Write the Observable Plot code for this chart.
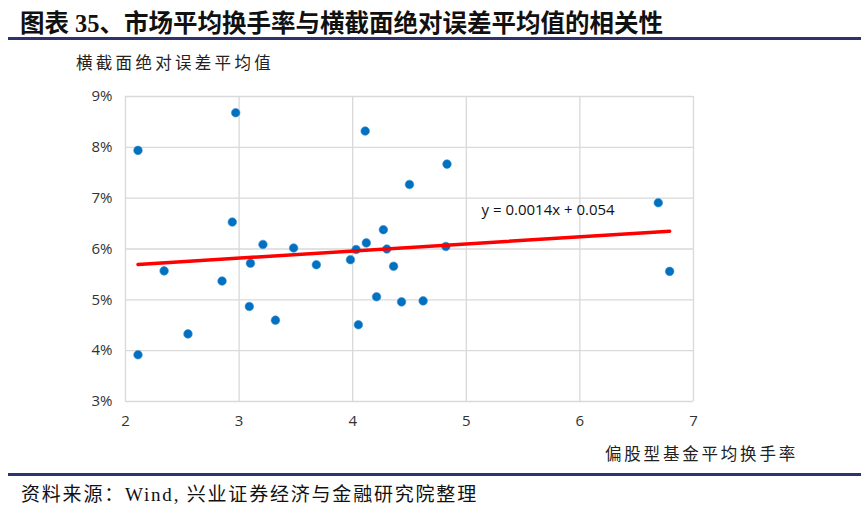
<!DOCTYPE html>
<html><head><meta charset="utf-8">
<script src="https://cdn.jsdelivr.net/npm/d3@7"></script>
<script src="https://cdn.jsdelivr.net/npm/@observablehq/plot@0.6"></script>
<style>
body{margin:0;background:#fff;}
#wrap{position:relative;width:865px;height:513px;overflow:hidden;background:#fff;font-family:"Noto Sans CJK SC",sans-serif;color:#222;}
#title{position:absolute;left:20px;top:4px;font-size:24.5px;font-weight:bold;font-family:"Liberation Serif","Noto Sans CJK SC",serif;color:#111;white-space:nowrap;}
.rule{position:absolute;left:8px;width:853px;height:3px;background:#2e3370;}
#ylabel{position:absolute;left:76px;top:50px;font-size:16.5px;letter-spacing:3.3px;color:#222;white-space:nowrap;}
#chart{position:absolute;left:0;top:80px;}
#xlabel{position:absolute;left:605px;top:441px;font-size:16.5px;letter-spacing:2.8px;color:#222;white-space:nowrap;}
#caption{position:absolute;left:21px;top:479px;font-size:19px;letter-spacing:1.8px;font-family:"Liberation Serif","Noto Sans CJK SC",serif;color:#111;white-space:nowrap;}
</style></head><body>
<div id="wrap">
  <div id="title">图表 35、市场平均换手率与横截面绝对误差平均值的相关性</div>
  <div class="rule" style="top:37px"></div>
  <div id="ylabel">横截面绝对误差平均值</div>
  <div id="chart"></div>
  <div id="xlabel">偏股型基金平均换手率</div>
  <div class="rule" style="top:473px"></div>
  <div id="caption">资料来源：Wind, 兴业证券经济与金融研究院整理</div>
</div>
<script>
// Average turnover of equity-oriented funds (x)
const turnover = [2.11, 2.97, 4.11, 2.94, 4.27, 3.21, 3.48, 4.12, 4.03, 4.30,
                  3.98, 3.68, 3.10, 2.34, 4.36, 2.85, 3.09, 3.32, 2.55, 2.11,
                  4.21, 4.05, 4.43, 4.62, 4.82, 6.79, 4.50, 4.83, 6.69];
// Mean cross-sectional absolute error (y, fraction)
const absError = [0.0794, 0.0868, 0.0832, 0.0653, 0.0638, 0.0609, 0.0602, 0.0612, 0.0599, 0.0600,
                  0.0579, 0.0569, 0.0572, 0.0557, 0.0566, 0.0537, 0.0487, 0.0460, 0.0433, 0.0392,
                  0.0506, 0.0451, 0.0496, 0.0498, 0.0605, 0.0556, 0.0727, 0.0767, 0.0691];
const xTicks = [2, 3, 4, 5, 6, 7];
const yTicks = [0.03, 0.04, 0.05, 0.06, 0.07, 0.08, 0.09];
const slope = 0.0014;
const intercept = 0.054;
const equationLabel = "y = 0.0014x + 0.054";

const points = turnover.map((x, i) => ({x, y: absError[i]}));
const [xmin, xmax] = d3.extent(turnover);
const trend = [xmin, xmax].map(x => ({x, y: slope * x + intercept}));

const chart = Plot.plot({
  width: 865,
  height: 360,
  marginLeft: 125,
  marginRight: 172,
  marginTop: 16,
  marginBottom: 39,
  style: {fontFamily: "'Open Sans', sans-serif", fontSize: "15px", color: "#333", background: "transparent"},
  x: {domain: [2, 7], ticks: xTicks, tickSize: 0, tickPadding: 14, tickFormat: d3.format("d"), label: null},
  y: {domain: [0.03, 0.09], ticks: yTicks, tickSize: 0, tickPadding: 13, tickFormat: d3.format(".0%"), label: null},
  marks: [
    Plot.gridX(xTicks, {stroke: "#d9d9d9", strokeOpacity: 1, strokeWidth: 1.3}),
    Plot.gridY(yTicks, {stroke: "#d9d9d9", strokeOpacity: 1, strokeWidth: 1.3}),
    Plot.dot(points, {x: "x", y: "y", r: 4.3, fill: "#0070c0", stroke: "#3d8fd0", strokeWidth: 0.6}),
    Plot.line(trend, {x: "x", y: "y", stroke: "#ff0000", strokeWidth: 3.5}),
    Plot.text([equationLabel], {x: 5.72, y: 0.0676, text: d => d, fill: "#111", fontSize: 15, fontFamily: "'Open Sans', sans-serif"})
  ]
});
document.getElementById("chart").appendChild(chart);
</script>
</body></html>
